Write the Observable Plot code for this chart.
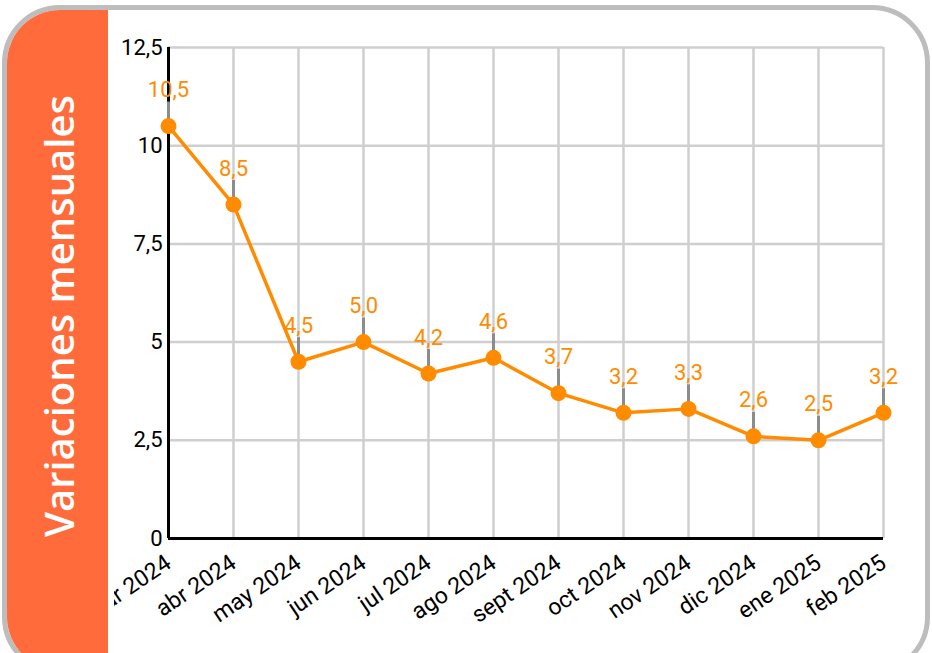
<!DOCTYPE html>
<html><head><meta charset="utf-8">
<script src="https://cdn.jsdelivr.net/npm/d3@7"></script>
<script src="https://cdn.jsdelivr.net/npm/@observablehq/plot@0.6"></script>
<style>
html,body{margin:0;padding:0;background:#fff;width:932px;height:653px;overflow:hidden;font-family:Roboto,sans-serif;}
#frame{position:absolute;left:2px;top:5px;width:918px;height:660px;border:5px solid #bdbdbd;border-radius:58px;overflow:hidden;background:#fff;}
#chart{position:absolute;left:107px;top:-10px;width:824px;height:653px;overflow:hidden;}
#chart svg{max-width:none;margin-left:-4px;display:block;}
#side{position:absolute;left:0;top:0;width:101px;height:100%;background:#ff6b3a;z-index:2;}
#side span{position:absolute;left:50%;top:306px;transform:translate(-50%,-50%) rotate(-90deg);white-space:nowrap;color:#fff;font-family:"Open Sans",sans-serif;font-weight:600;font-size:40px;}
</style></head>
<body>
<div id="frame"><div id="side"><span>Variaciones mensuales</span></div><div id="chart"></div></div>
<script>
const months = ["mar 2024","abr 2024","may 2024","jun 2024","jul 2024","ago 2024","sept 2024","oct 2024","nov 2024","dic 2024","ene 2025","feb 2025"];
const values = [10.5, 8.5, 4.5, 5.0, 4.2, 4.6, 3.7, 3.2, 3.3, 2.6, 2.5, 3.2];
const yTicks = [0, 2.5, 5, 7.5, 10, 12.5];

const data = months.map((m, i) => ({m, v: values[i]}));
const comma = d => String(d).replace(".", ",");
const orange = "#ff8c00";

const plot = Plot.plot({
  width: 824, height: 653,
  marginLeft: 58, marginTop: 47, marginBottom: 115, marginRight: 51,
  style: {fontFamily: "Roboto, sans-serif", fontSize: "22px", color: "#000", background: "transparent"},
  x: {type: "point", domain: months, padding: 0, label: null},
  y: {domain: [0, 12.5], ticks: yTicks, label: null},
  marks: [
    Plot.gridX(months, {stroke: "#cfcfcf", strokeOpacity: 1, strokeWidth: 2.5}),
    Plot.gridY(yTicks, {stroke: "#cfcfcf", strokeOpacity: 1, strokeWidth: 2.5}),
    Plot.axisY({ticks: yTicks, tickSize: 0, tickPadding: 6, tickFormat: comma, fontSize: 22}),
    Plot.axisX({tickSize: 0, tickPadding: 22, tickRotate: -34, fontSize: 23}),
    Plot.ruleX([months[0]], {stroke: "#000", strokeWidth: 3}),
    Plot.ruleY([0], {stroke: "#000", strokeWidth: 3}),
    Plot.ruleX(data, {x: "m", y1: "v", y2: "v", insetTop: -24, insetBottom: 6, stroke: "#8c8c8c", strokeWidth: 3}),
    Plot.line(data, {x: "m", y: "v", stroke: orange, strokeWidth: 3.5}),
    Plot.dot(data, {x: "m", y: "v", r: 8, fill: orange}),
    Plot.text(data, {x: "m", y: "v", text: d => d.v.toFixed(1).replace(".", ","), dy: -36, fill: orange, fontSize: 22})
  ]
});
document.getElementById("chart").appendChild(plot);
</script>
</body></html>
